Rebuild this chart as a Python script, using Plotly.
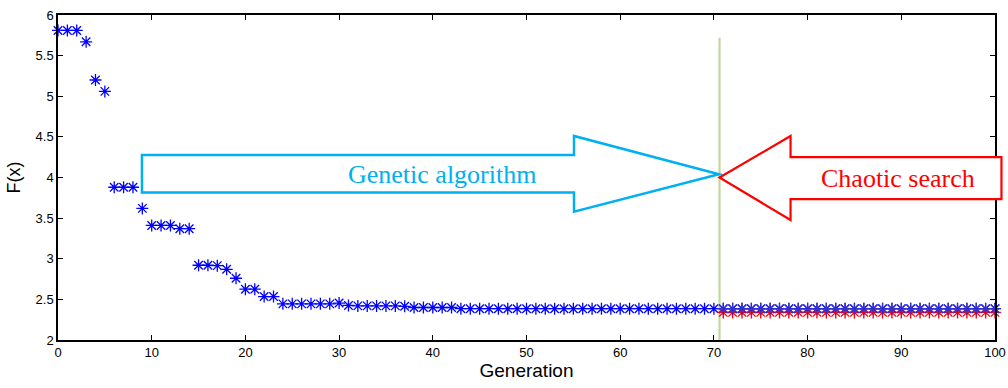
import plotly.graph_objects as go

# Data
generation = list(range(0, 101))
ga_values = ([5.81, 5.81, 5.81, 5.67, 5.20, 5.06, 3.88, 3.88, 3.88, 3.62,
              3.41, 3.41, 3.41, 3.37, 3.37, 2.92, 2.92, 2.915, 2.87, 2.76,
              2.625, 2.625, 2.535, 2.535, 2.445, 2.445, 2.445, 2.445, 2.445, 2.445,
              2.455, 2.425, 2.42, 2.42, 2.42, 2.42, 2.42, 2.415, 2.40, 2.40,
              2.40, 2.40, 2.40] + [2.385] * 58)
chaos_generation = list(range(71, 101))
chaos_values = [2.34] * 30

switch_gen = 70.6
switch_top = 5.72

x_ticks = list(range(0, 101, 10))
y_ticks = [2, 2.5, 3, 3.5, 4, 4.5, 5, 5.5, 6]
y_tick_text = ["2", "2.5", "3", "3.5", "4", "4.5", "5", "5.5", "6"]

X_RANGE = (0, 100)
Y_RANGE = (2, 6)


def to_paper(x, y):
    return ((x - X_RANGE[0]) / (X_RANGE[1] - X_RANGE[0]),
            (y - Y_RANGE[0]) / (Y_RANGE[1] - Y_RANGE[0]))


def path_from(points):
    pts = [to_paper(x, y) for x, y in points]
    return "M " + " L ".join(f"{a:.5f},{b:.5f}" for a, b in pts) + " Z"


# Arrow outlines (annotation geometry, in data units)
ga_arrow = [(8.96, 4.277), (55.07, 4.277), (55.07, 4.511), (70.54, 4.039),
            (55.07, 3.579), (55.07, 3.815), (8.96, 3.815)]
cs_arrow = [(70.6, 4.0), (78.18, 4.511), (78.18, 4.252), (100.69, 4.252),
            (100.69, 3.735), (78.18, 3.735), (78.18, 3.477)]

fig = go.Figure()

fig.add_trace(go.Scatter(
    x=generation, y=ga_values, mode="markers",
    marker=dict(symbol="asterisk-open", size=10, color="#0000FF",
                line=dict(color="#0000FF", width=1.3)),
    showlegend=False, cliponaxis=False))

fig.add_trace(go.Scatter(
    x=chaos_generation, y=chaos_values, mode="markers",
    marker=dict(symbol="asterisk-open", size=10, color="#FF0000",
                line=dict(color="#FF0000", width=1.4)),
    showlegend=False, cliponaxis=False))

# Re-draw blue on top for the overlapping region
fig.add_trace(go.Scatter(
    x=generation[71:], y=ga_values[71:], mode="markers",
    marker=dict(symbol="asterisk-open", size=10, color="#3030D0",
                line=dict(color="#3030D0", width=1.2)),
    showlegend=False, cliponaxis=False))

shapes = [
    dict(type="line", xref="x", yref="y", x0=switch_gen, x1=switch_gen,
         y0=Y_RANGE[0], y1=switch_top, line=dict(color="#C4D79B", width=2.2),
         layer="below"),
    dict(type="path", xref="paper", yref="paper", path=path_from(ga_arrow),
         line=dict(color="#00B0F0", width=2.5), fillcolor="white", layer="above"),
    dict(type="path", xref="paper", yref="paper", path=path_from(cs_arrow),
         line=dict(color="#FF0000", width=2.2), fillcolor="white", layer="above"),
]

annotations = [
    dict(x=41.0, y=4.04, xref="x", yref="y", text="Genetic algorithm",
         showarrow=False, font=dict(family="Liberation Serif", size=26, color="#00B0F0")),
    dict(x=89.7, y=3.985, xref="x", yref="y", text="Chaotic search",
         showarrow=False, font=dict(family="Liberation Serif", size=26, color="#FF0000")),
]

axis_common = dict(showline=True, linecolor="black", linewidth=1.5, mirror="ticks",
                   ticks="inside", ticklen=5, tickcolor="black", tickwidth=1,
                   showgrid=False, zeroline=False, automargin=False,
                   tickfont=dict(family="Liberation Sans", size=13, color="#000000"))

fig.update_layout(
    width=1008, height=388,
    margin=dict(l=58, r=13, t=15, b=48),
    paper_bgcolor="white", plot_bgcolor="white",
    xaxis=dict(range=list(X_RANGE), tickvals=x_ticks,
               title=dict(text="Generation", standoff=4,
                          font=dict(family="Liberation Sans", size=19, color="#000000")),
               **axis_common),
    yaxis=dict(range=list(Y_RANGE), tickvals=y_ticks, ticktext=y_tick_text,
               title=dict(text="F(x)", standoff=10,
                          font=dict(family="Liberation Sans", size=18, color="#000000")),
               **axis_common),
    shapes=shapes, annotations=annotations,
)

fig.write_html("out.html")
